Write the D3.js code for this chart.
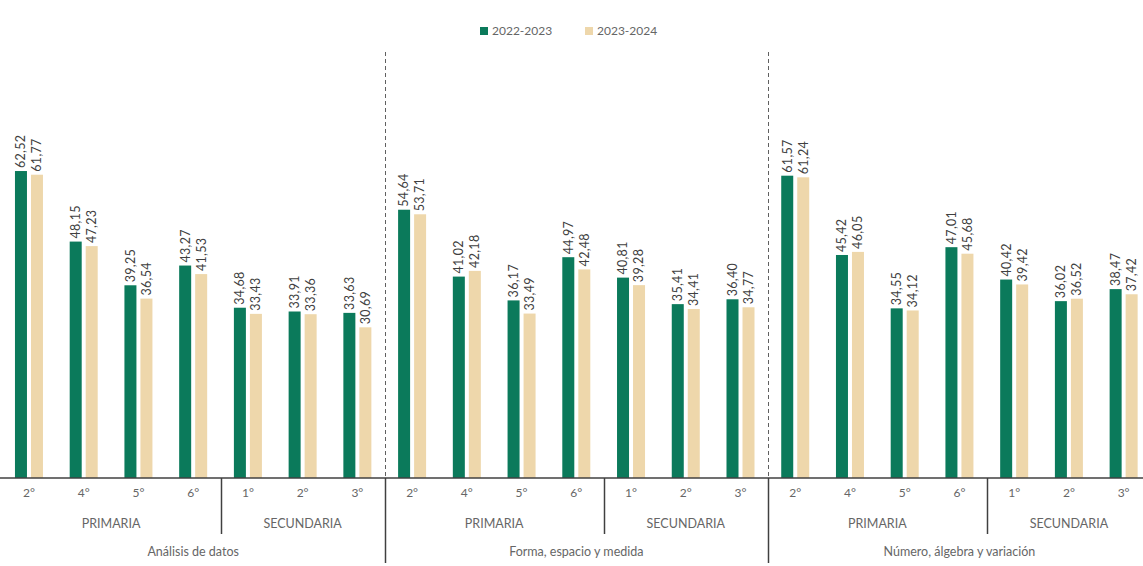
<!DOCTYPE html>
<html>
<head>
<meta charset="utf-8">
<script src="https://cdn.jsdelivr.net/npm/d3@7"></script>
<style>
  body { margin: 0; background: #ffffff; }
  svg { display: block; font-family: Lato, "Open Sans", sans-serif; }
</style>
</head>
<body>
<svg id="chart" width="1143" height="566"></svg>
<script>
// ---- data ----
const subjects = ["Análisis de datos", "Forma, espacio y medida", "Número, álgebra y variación"];
const grades = ["P2", "P4", "P5", "P6", "S1", "S2", "S3"];
const gradeLabels = ["2°", "4°", "5°", "6°", "1°", "2°", "3°"];
const levels = ["PRIMARIA", "SECUNDARIA"];
const levelSizes = [4, 3];
const series = ["2022-2023", "2023-2024"];
const values2022 = [
  [62.52, 48.15, 39.25, 43.27, 34.68, 33.91, 33.63],
  [54.64, 41.02, 36.17, 44.97, 40.81, 35.41, 36.40],
  [61.57, 45.42, 34.55, 47.01, 40.42, 36.02, 38.47]
];
const values2023 = [
  [61.77, 47.23, 36.54, 41.53, 33.43, 33.36, 30.69],
  [53.71, 42.18, 33.49, 42.48, 39.28, 34.41, 34.77],
  [61.24, 46.05, 34.12, 45.68, 39.42, 36.52, 37.42]
];
const colors = ["#0b7a5b", "#eed7ab"];

// ---- layout ----
const svg = d3.select("#chart");
const baseY = 478;
const y = d3.scaleLinear().domain([0, 70]).range([baseY, baseY - 70 * 4.91]);
const x0 = d3.scaleBand().domain(subjects).range([1.6, 1151]).padding(0);
const x1 = d3.scaleBand().domain(grades).range([0, x0.bandwidth()]).padding(0);
const x2 = d3.scaleBand().domain(series).range([0, x1.bandwidth()]).paddingInner(0.25).paddingOuter(0.835);

const rows = [];
subjects.forEach((s, si) => {
  grades.forEach((g, gi) => {
    rows.push({ s, g, gi, ser: series[0], v: values2022[si][gi], c: colors[0] });
    rows.push({ s, g, gi, ser: series[1], v: values2023[si][gi], c: colors[1] });
  });
});
const bx = d => x0(d.s) + x1(d.g) + x2(d.ser);

// bars
svg.append("g").selectAll("rect").data(rows).join("rect")
  .attr("x", bx)
  .attr("y", d => y(d.v))
  .attr("width", x2.bandwidth())
  .attr("height", d => baseY - y(d.v))
  .attr("fill", d => d.c);

// value labels
const fmt = v => v.toFixed(2).replace(".", ",");
svg.append("g").selectAll("text").data(rows).join("text")
  .attr("transform", d => `translate(${bx(d) + x2.bandwidth() / 2},${y(d.v) - 3}) rotate(-90)`)
  .attr("dy", "0.35em")
  .attr("text-anchor", "start")
  .attr("font-size", 12.5)
  .attr("letter-spacing", 0.3)
  .attr("fill", "#404040")
  .text(d => fmt(d.v));

// axis baseline
svg.append("line").attr("x1", 0).attr("x2", 1143).attr("y1", baseY).attr("y2", baseY)
  .attr("stroke", "#404040").attr("stroke-width", 1.5);

// group separators
subjects.slice(1).forEach(s => {
  const xs = Math.round(x0(s)) + 0.5;
  svg.append("line").attr("x1", xs).attr("x2", xs).attr("y1", 52).attr("y2", baseY)
    .attr("stroke", "#606060").attr("stroke-width", 1).attr("stroke-dasharray", "4,3");
  svg.append("line").attr("x1", xs).attr("x2", xs).attr("y1", baseY).attr("y2", 563)
    .attr("stroke", "#404040").attr("stroke-width", 1.5);
});

// category labels
subjects.forEach(s => {
  const g = svg.append("g");
  grades.forEach((gr, gi) => {
    g.append("text")
      .attr("x", x0(s) + x1(gr) + x1.bandwidth() / 2)
      .attr("y", 497)
      .attr("text-anchor", "middle")
      .attr("font-size", 12)
      .attr("fill", "#666666")
      .text(gradeLabels[gi]);
  });
  // level separator
  const sepX = Math.round(x0(s) + x1(grades[levelSizes[0]])) + 0.5;
  g.append("line").attr("x1", sepX).attr("x2", sepX).attr("y1", baseY).attr("y2", 534)
    .attr("stroke", "#404040").attr("stroke-width", 1.5);
  let start = 0;
  levels.forEach((lv, li) => {
    const a = x0(s) + x1(grades[start]);
    const b = x0(s) + x1(grades[start + levelSizes[li] - 1]) + x1.bandwidth();
    g.append("text")
      .attr("x", (a + b) / 2)
      .attr("y", 528)
      .attr("text-anchor", "middle")
      .attr("font-size", 12.5)
      .attr("fill", "#666666")
      .text(lv);
    start += levelSizes[li];
  });
  g.append("text")
    .attr("x", x0(s) + x0.bandwidth() / 2)
    .attr("y", 556)
    .attr("text-anchor", "middle")
    .attr("font-size", 12.5)
    .attr("fill", "#666666")
    .text(s);
});

// legend
const legend = svg.append("g").attr("transform", "translate(480,31)");
const legX = [0, 105];
series.forEach((s, i) => {
  const lg = legend.append("g").attr("transform", `translate(${legX[i]},0)`);
  lg.append("rect").attr("x", 0).attr("y", -4).attr("width", 8).attr("height", 8).attr("fill", colors[i]);
  lg.append("text").attr("x", 12).attr("y", 0).attr("dy", "0.35em")
    .attr("font-size", 12).attr("fill", "#666666").text(s);
});
</script>
</body>
</html>
